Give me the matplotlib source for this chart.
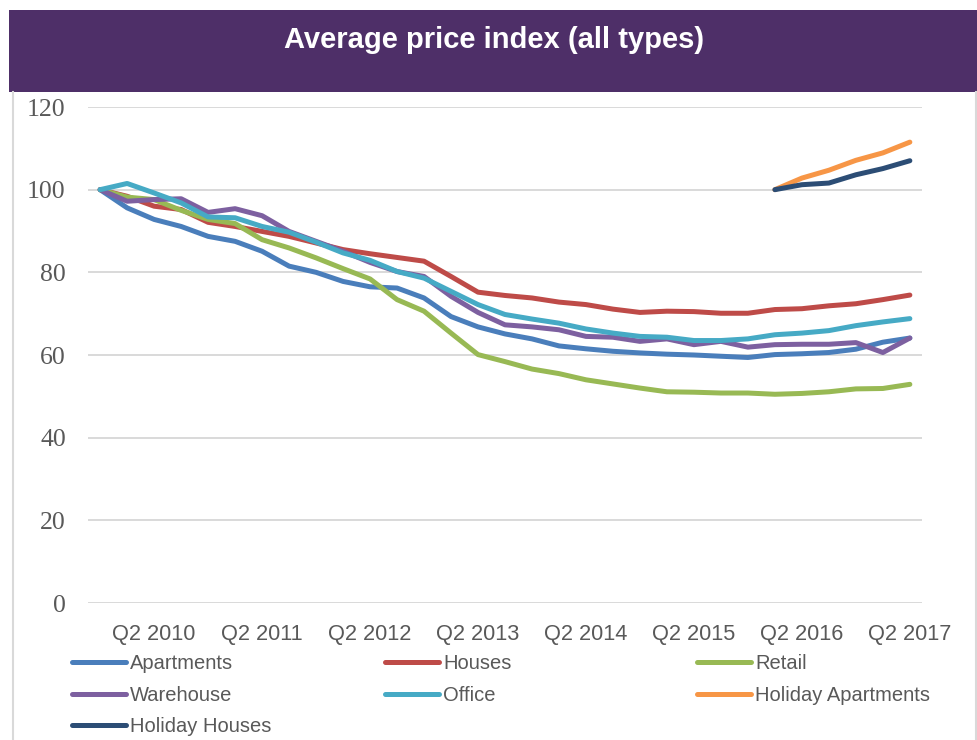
import numpy as np
import matplotlib.pyplot as plt
from matplotlib.lines import Line2D
from matplotlib.patches import Rectangle

# quarters Q4 2009 .. Q2 2017
quarters = ['Q4 2009'] + [f'Q{q} {y}' for y in range(2010, 2017) for q in range(1, 5)] + ['Q1 2017', 'Q2 2017']

apartments = [100, 95.6, 92.8, 91.1, 88.7, 87.5, 85.1, 81.5, 80.0, 77.8, 76.5, 76.2, 73.8, 69.3, 66.8,
              65.1, 63.9, 62.2, 61.5, 60.9, 60.5, 60.2, 60.0, 59.7, 59.4, 60.1, 60.3, 60.6, 61.4, 63.1, 64.1]
houses = [100, 98.4, 96.0, 95.2, 92.1, 91.1, 89.9, 88.7, 87.1, 85.5, 84.5, 83.6, 82.7, 79.0, 75.2,
          74.4, 73.8, 72.8, 72.2, 71.1, 70.3, 70.6, 70.5, 70.1, 70.1, 71.0, 71.2, 71.9, 72.4, 73.4, 74.5]
retail = [100, 98.2, 97.6, 95.0, 92.8, 91.8, 87.9, 85.9, 83.5, 80.9, 78.4, 73.4, 70.6, 65.3, 60.1,
          58.4, 56.6, 55.5, 54.0, 53.0, 52.0, 51.1, 51.0, 50.8, 50.8, 50.5, 50.7, 51.1, 51.8, 51.9, 52.9]
warehouse = [100, 97.2, 97.6, 97.8, 94.5, 95.4, 93.7, 89.9, 87.5, 85.1, 82.4, 80.2, 79.0, 74.2, 70.3,
             67.3, 66.8, 66.1, 64.5, 64.3, 63.3, 63.9, 62.5, 63.3, 61.9, 62.5, 62.6, 62.6, 63.0, 60.6, 64.1]
office = [100, 101.5, 99.2, 96.8, 93.4, 93.2, 91.1, 89.7, 87.3, 84.7, 82.9, 80.2, 78.6, 75.4, 72.2,
          69.8, 68.7, 67.7, 66.3, 65.3, 64.5, 64.3, 63.5, 63.5, 63.9, 64.9, 65.3, 65.9, 67.1, 68.0, 68.8]
# holiday series start Q1 2016
holiday_start = 25
holiday_apartments = [100, 102.8, 104.7, 107.1, 108.9, 111.5]
holiday_houses = [100, 101.2, 101.6, 103.6, 105.1, 107.0]

series = [
    ('Apartments', apartments, '#4A7EBB'),
    ('Houses', houses, '#BE4B48'),
    ('Retail', retail, '#98B954'),
    ('Warehouse', warehouse, '#7D60A0'),
    ('Office', office, '#46AAC5'),
    ('Holiday Apartments', holiday_apartments, '#F79646'),
    ('Holiday Houses', holiday_houses, '#2C4D75'),
]

W, H = 978, 740
fig = plt.figure(figsize=(W / 100, H / 100), dpi=100)
fig.patch.set_facecolor('white')

# title bar + border
fig.patches.append(Rectangle((9 / W, 1 - 92 / H), (W - 9) / W, 82 / H, transform=fig.transFigure,
                             facecolor='#4E2F68', edgecolor='none', zorder=0))
fig.add_artist(Line2D([13 / W, 13 / W], [0, 1 - 92 / H], color='#D9D9D9', lw=1.5))
fig.add_artist(Line2D([976 / W, 976 / W], [0, 1 - 92 / H], color='#D9D9D9', lw=1.5))
fig.text(494 / W, 1 - 40 / H, 'Average price index (all types)', color='white', fontsize=21,
         fontweight='bold', family=['Liberation Sans', 'DejaVu Sans'], ha='center', va='center')

ax = fig.add_axes([88 / W, 1 - 603 / H, (922 - 88) / W, (603 - 107) / H])
x = np.arange(len(quarters))
for name, vals, col in series:
    xs = x[holiday_start:] if name.startswith('Holiday') else x
    ax.plot(xs, vals, color=col, lw=3.6, solid_capstyle='round', solid_joinstyle='round', label=name)

ax.set_xlim(-0.45, len(quarters) - 0.55)
ax.set_ylim(0, 120)
ax.set_yticks(range(0, 121, 20))
ax.set_yticklabels([str(v) for v in range(0, 121, 20)], family=['Liberation Serif', 'DejaVu Serif'],
                   fontsize=18.5, color='#595959')
ax.set_xticks(x[2::4])
ax.set_xticklabels(quarters[2::4], family=['Liberation Sans Narrow', 'Liberation Sans', 'DejaVu Sans'],
                   fontsize=15.7, color='#595959')
ax.tick_params(axis='y', length=0, pad=16)
ax.tick_params(axis='x', length=0, pad=15)
ax.grid(axis='y', color='#D9D9D9', lw=1.4)
ax.set_axisbelow(True)
for s in ax.spines.values():
    s.set_visible(False)

# legend, three columns
handles = {n: Line2D([], [], color=c, lw=3.6, solid_capstyle='round') for n, _, c in series}
columns = [(72, ['Apartments', 'Warehouse', 'Holiday Houses']),
           (385, ['Houses', 'Office']),
           (697, ['Retail', 'Holiday Apartments'])]
for cx, names in columns:
    fig.legend([handles[n] for n in names], names, loc='upper left',
               bbox_to_anchor=(cx / W, 1 - 654 / H), frameon=False, borderpad=0, borderaxespad=0,
               handlelength=2.7, handletextpad=0.2, labelspacing=0.63,
               prop={'family': ['Liberation Sans Narrow', 'Liberation Sans', 'DejaVu Sans'], 'size': 14.5},
               labelcolor='#595959')

fig.savefig('out.png', dpi=100)
